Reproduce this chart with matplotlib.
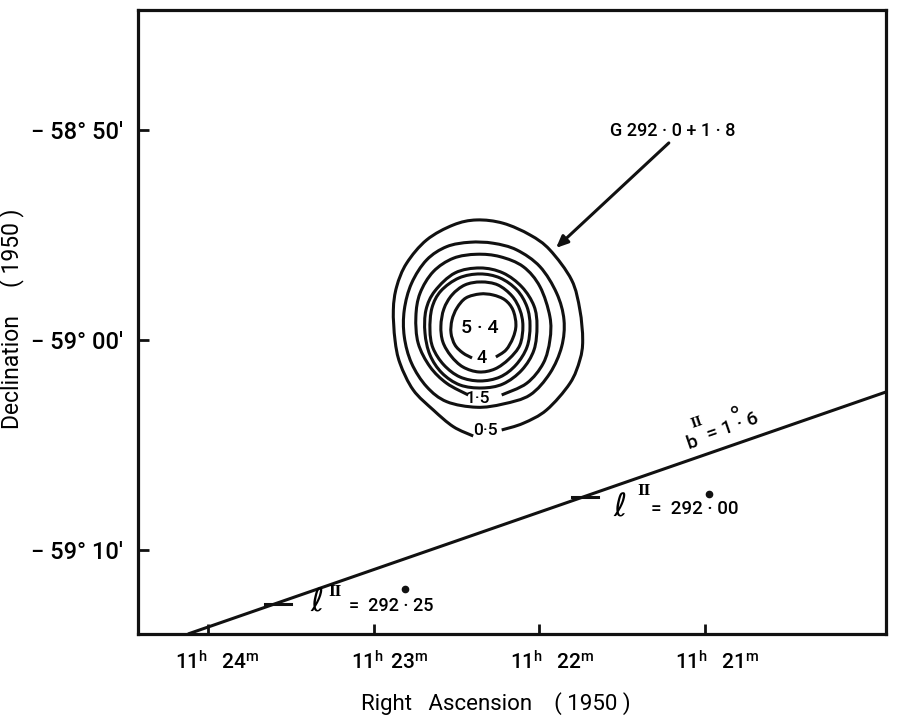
import numpy as np
import matplotlib
matplotlib.use("Agg")
import matplotlib.pyplot as plt
from matplotlib.path import Path
from matplotlib.patches import PathPatch
from matplotlib.transforms import ScaledTranslation

plt.rcParams['font.family'] = ['Roboto', 'DejaVu Sans']
plt.rcParams['font.weight'] = 'medium'
plt.rcParams['mathtext.fontset'] = 'custom'
plt.rcParams['mathtext.rm'] = 'Roboto:medium'
plt.rcParams['mathtext.default'] = 'rm'

# x = minutes of RA past 11h, y = arcmin from -59 00
ra_05 = [22.227, 22.097, 21.956, 21.815, 21.755, 21.738, 21.755, 21.805, 21.936, 22.056, 22.218, 22.378,
         22.519, 22.680, 22.801, 22.861, 22.881, 22.871, 22.841, 22.761, 22.640, 22.519, 22.399]
dec_05 = [-4.286, -3.967, -3.333, -2.063, -0.950, 0, 1.429, 2.857, 4.286, 5.000, 5.557, 5.714,
          5.476, 4.762, 3.652, 2.538, 1.429, 0, -1.110, -2.381, -3.333, -4.129, -4.572]

ra_1 = [22.378, 22.218, 22.056, 21.936, 21.865, 21.851, 21.895, 21.996, 22.136, 22.278, 22.419, 22.559,
        22.680, 22.771, 22.815, 22.815, 22.771, 22.680, 22.559]
dec_1 = [-3.205, -3.048, -2.619, -1.586, -0.319, 0.952, 2.223, 3.490, 4.286, 4.605, 4.652, 4.443,
         3.810, 2.700, 1.429, 0.157, -1.110, -2.224, -2.938]

ra_15 = [22.227, 22.076, 21.976, 21.936, 21.936, 21.996, 22.097, 22.237, 22.378, 22.519, 22.640, 22.720,
         22.745, 22.731, 22.660, 22.559, 22.429]
dec_15 = [-2.619, -2.063, -1.110, 0, 1.110, 2.538, 3.490, 3.966, 4.080, 3.890, 3.252, 2.223,
          1.110, -0.158, -1.272, -2.063, -2.619]

ra_2 = [22.358, 22.219, 22.105, 22.032, 22.014, 22.032, 22.105, 22.219, 22.346, 22.479, 22.588, 22.660,
        22.690, 22.684, 22.630, 22.509]
dec_2 = [3.428, 3.190, 2.524, 1.619, 0.667, -0.476, -1.429, -2.095, -2.286, -2.143, -1.571, -0.714,
         0.333, 1.429, 2.333, 3.190]

ra_25 = [22.358, 22.237, 22.135, 22.074, 22.056, 22.074, 22.141, 22.237, 22.358, 22.479, 22.576, 22.642,
         22.660, 22.648, 22.594, 22.485]
dec_25 = [3.143, 2.952, 2.381, 1.571, 0.667, -0.333, -1.190, -1.762, -1.952, -1.762, -1.190, -0.381,
          0.476, 1.524, 2.333, 2.952]

ra_3 = [22.352, 22.250, 22.165, 22.117, 22.099, 22.117, 22.183, 22.268, 22.364, 22.461, 22.533, 22.582,
        22.594, 22.576, 22.527, 22.449]
dec_3 = [2.762, 2.619, 2.095, 1.429, 0.667, -0.238, -0.905, -1.381, -1.524, -1.286, -0.762, -0.095,
         0.667, 1.476, 2.143, 2.619]

ra_4 = [22.262, 22.201, 22.159, 22.141, 22.159, 22.207, 22.280, 22.358, 22.443, 22.497, 22.527, 22.533,
        22.509, 22.461, 22.406]
dec_4 = [-0.810, -0.476, 0.095, 0.714, 1.429, 1.905, 2.143, 2.190, 2.000, 1.524, 0.952, 0.333,
         -0.238, -0.619, -0.857]

ra_b = [24.121, 19.907]
dec_b = [-14.0, -2.476]

# little dashes on the b=1.6 line
l_ticks_ra = [23.578, 21.724]
l_ticks_dec = [-12.571, -7.476]

ra_ticks = [24, 23, 22, 21]
ra_labels = [r"$11^{h}\ \ 24^{m}$", r"$11^{h}\ 23^{m}$", r"$11^{h}\ \ 22^{m}$", r"$11^{h}\ \ 21^{m}$"]
ra_label_shift = [9, 16, 13, 12]
dec_ticks = [10, 0, -10]
dec_labels = ["\u2212 58\u00b0 50\u2032", "\u2212 59\u00b0 00\u2032", "\u2212 59\u00b0 10\u2032"]


def smooth_path(xs, ys, closed=False):
    # catmull-rom through the read points, as bezier segments
    pts = np.column_stack([xs, ys])
    n = len(pts)
    verts = [pts[0]]
    codes = [Path.MOVETO]
    for i in range(n if closed else n - 1):
        if closed:
            p0, p1, p2, p3 = pts[(i - 1) % n], pts[i], pts[(i + 1) % n], pts[(i + 2) % n]
        else:
            p0, p1, p2, p3 = pts[max(i - 1, 0)], pts[i], pts[i + 1], pts[min(i + 2, n - 1)]
        verts += [p1 + (p2 - p0) / 6, p2 - (p3 - p1) / 6, p2]
        codes += [Path.CURVE4] * 3
    return Path(verts, codes)


fig = plt.figure(figsize=(9, 7.21), dpi=100)
ax = fig.add_axes([138 / 900, 1 - 634 / 721, 748 / 900, 624 / 721])
ax.set_xlim(24.4225, 19.907)
ax.set_ylim(-14.0, 15.71)

contours = [(ra_05, dec_05, False), (ra_1, dec_1, True), (ra_15, dec_15, False), (ra_2, dec_2, True),
            (ra_25, dec_25, True), (ra_3, dec_3, True), (ra_4, dec_4, False)]
for xs, ys, closed in contours:
    ax.add_patch(PathPatch(smooth_path(xs, ys, closed), fill=False, ec='#111111', lw=2.2))

ax.plot(ra_b, dec_b, color='#111111', lw=2.2, solid_capstyle='butt')
for x, y in zip(l_ticks_ra, l_ticks_dec):
    ax.plot([x + 0.078, x - 0.078], [y, y], color='#111111', lw=2.2)

# contour labels
ax.text(22.358, 0.571, "5 \u00b7 4", fontsize=14, ha='center', va='center')
ax.text(22.346, -0.857, "4", fontsize=13, ha='center', va='center')
ax.text(22.370, -2.809, "1\u00b75", fontsize=12.5, ha='center', va='center')
ax.text(22.328, -4.333, "0\u00b75", fontsize=12.5, ha='center', va='center')

ax.text(21.193, 9.952, "G 292 \u00b7 0 + 1 \u00b7 8", fontsize=13, ha='center', va='center')
ax.annotate("", xy=(21.899, 4.381), xytext=(21.218, 9.381),
            arrowprops=dict(arrowstyle='-|>,head_length=0.5,head_width=0.22', color='#111111', lw=2.2,
                            mutation_scale=14, shrinkA=0, shrinkB=0))

# l = 292.00
ax.text(21.513, -8.000, "\u2113", family='DejaVu Sans', style='italic', fontsize=23, ha='center', va='center')
ax.text(21.368, -7.191, "II", family='DejaVu Serif', weight='bold', fontsize=10, ha='center', va='center')
ax.text(21.060, -8.048, "=  292 \u00b7 00", fontsize=13.5, ha='center', va='center')
ax.plot([20.976], [-7.334], 'o', color='#111111', ms=4.5)

# l = 292.25
ax.text(23.342, -12.524, "\u2113", family='DejaVu Sans', style='italic', fontsize=23, ha='center', va='center')
ax.text(23.233, -12.000, "II", family='DejaVu Serif', weight='bold', fontsize=10, ha='center', va='center')
ax.text(22.895, -12.667, "=  292 \u00b7 25", fontsize=13, ha='center', va='center')
ax.plot([22.811], [-11.857], 'o', color='#111111', ms=4.5)

# b = 1.6, runs along the line
ax.text(21.079, -4.905, "b", fontsize=14, rotation=19, ha='center', va='center')
ax.text(21.048, -3.953, "II", family='DejaVu Serif', weight='bold', fontsize=9, rotation=19, ha='center', va='center')
ax.text(20.831, -4.143, "= 1 \u00b7 6", fontsize=14, rotation=19, ha='center', va='center')
ax.plot([20.825], [-3.286], 'o', mfc='white', mec='#111111', mew=1.2, ms=4)

ax.set_xticks(ra_ticks)
ax.set_xticklabels(ra_labels, fontsize=15)
ax.set_yticks(dec_ticks)
ax.set_yticklabels(dec_labels, fontsize=17)
ax.tick_params(axis='x', direction='in', length=7.5, width=2.0, pad=12, color='#111111')
ax.tick_params(axis='y', direction='in', length=8, width=2.0, pad=11, color='#111111')
for lab, dx in zip(ax.get_xticklabels(), ra_label_shift):
    lab.set_transform(lab.get_transform() + ScaledTranslation(dx / 100, 0, fig.dpi_scale_trans))

for spine in ax.spines.values():
    spine.set_linewidth(2.3)
    spine.set_color('#111111')

ax.set_xlabel("Right   Ascension    ( 1950 )", fontsize=16, va='center')
ax.xaxis.set_label_coords(0.479, -0.111)
ax.set_ylabel("Declination     ( 1950 )", fontsize=16.5, va='center')
ax.yaxis.set_label_coords(-0.169, 0.506)

fig.savefig("out.png", dpi=100)
